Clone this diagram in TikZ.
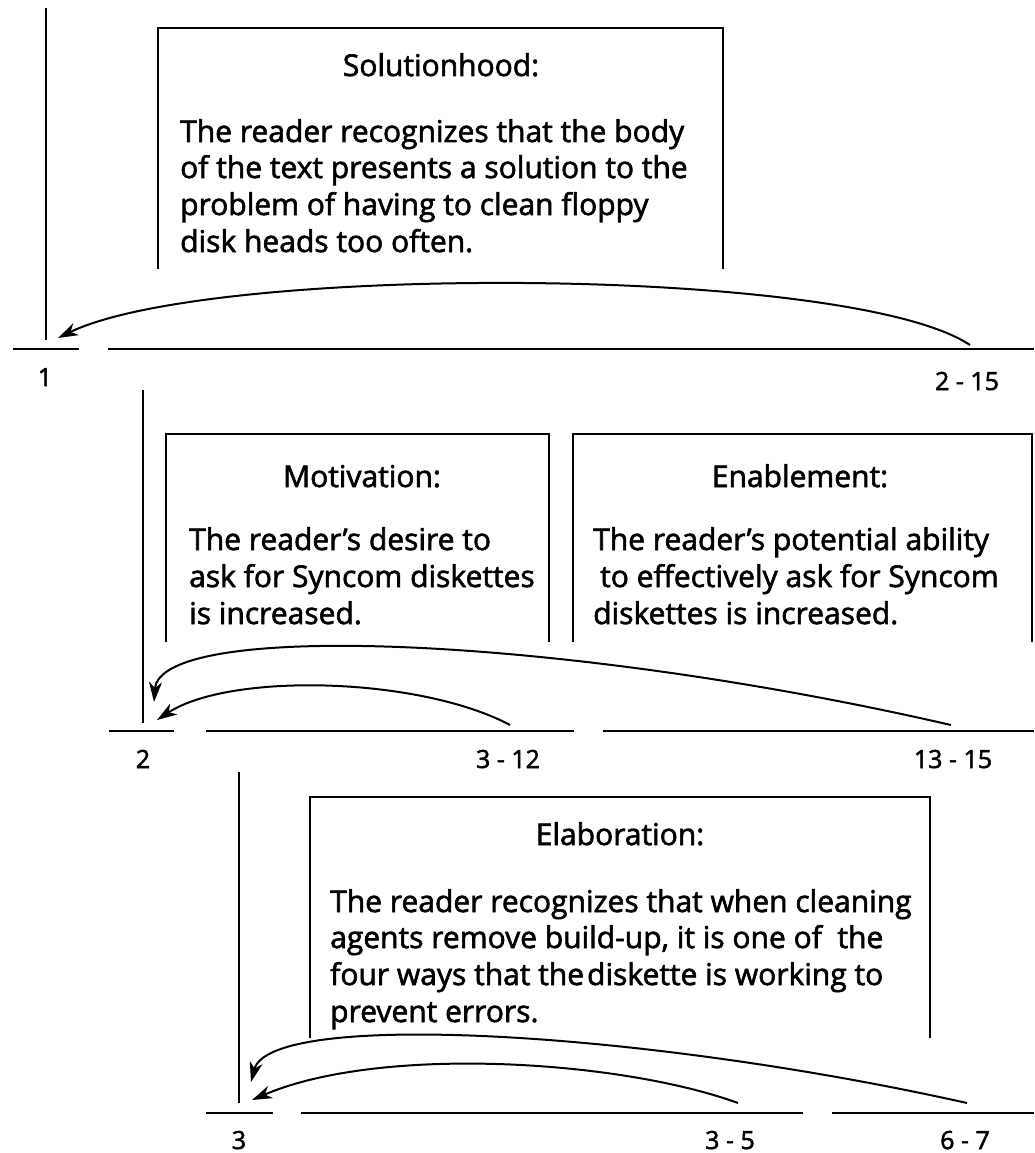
\documentclass[tikz,border=0pt]{standalone}
\usepackage{fontspec}
\setmainfont{Open Sans}[BoldFont={Open Sans},BoldFeatures={FakeBold=2}]
\usetikzlibrary{arrows.meta}
\begin{document}
\begin{tikzpicture}[x=1pt,y=-1pt,
  ln/.style={line width=2pt},
  arr/.style={line width=2pt,-{Stealth[length=20pt,width=13pt,inset=6pt]}},
  ttl/.style={anchor=base,inner sep=0pt,font=\fontsize{30}{36}\selectfont\bfseries},
  txt/.style={anchor=base west,inner sep=0pt,font=\fontsize{30}{36}\selectfont\bfseries},
  lab/.style={anchor=base,inner sep=0pt,font=\fontsize{25}{30}\selectfont\bfseries}]
\useasboundingbox (0,0) rectangle (1034,1153);

% ---------- Section 1 ----------
\draw[ln] (45.7,8) -- (45.7,340);
\draw[ln] (13,349) -- (79,349);
\draw[ln] (108,349) -- (1034,349);
\draw[ln] (158,269) |- (723,28) -- (723,269);
\node[ttl] (t1) at (441,76) {Solutionhood:};
\node[txt] (s1a) at (180,142) {The reader recognizes that the body};
\node[txt] (s1b) at (180,178) {of the text presents a solution to the};
\node[txt] (s1c) at (180,215) {problem of having to clean floppy};
\node[txt] (s1d) at (180,252) {disk heads too often.};
\coordinate (a1s) at (970,345);
\coordinate (a1e) at (58,338);
\draw[arr] (a1s) .. controls (850,265) and (210,264) .. (a1e);
\node[lab] (n1) at (45,386) {1};
\node[lab] (n215) at (967,390) {2 - 15};

% ---------- Section 2 ----------
\draw[ln] (143,390) -- (143,723);
\draw[ln] (109,731) -- (174,731);
\draw[ln] (206,731) -- (574,731);
\draw[ln] (603,731) -- (1034,731);
\draw[ln] (166,642) |- (549,434) -- (549,642);
\draw[ln] (573,642) |- (1032,434) -- (1032,642);
\node[ttl] (t2) at (362,487) {Motivation:};
\node[txt] (m1) at (189,550) {The reader’s desire to};
\node[txt] (m2) at (189,587) {ask for Syncom diskettes};
\node[txt] (m3) at (189,624) {is increased.};
\node[ttl] (t3) at (800,487) {Enablement:};
\node[txt] (e1) at (593,550) {The reader’s potential ability};
\node[txt] (e2) at (600,587) {to effectively ask for Syncom};
\node[txt] (e3) at (593,624) {diskettes is increased.};
\coordinate (a2s) at (951,725);
\coordinate (a2e) at (154,702);
\coordinate (a3s) at (510,725);
\coordinate (a3e) at (157,720);
\draw[arr] (a2s) .. controls (560,635) and (160,620) .. (a2e);
\draw[arr] (a3s) .. controls (420,677) and (230,672) .. (a3e);
\node[lab] (n2) at (143,768) {2};
\node[lab] (n312) at (508,768) {3 - 12};
\node[lab] (n1315) at (953,768) {13 - 15};

% ---------- Section 3 ----------
\draw[ln] (239,772) -- (239,1103);
\draw[ln] (206,1113) -- (273,1113);
\draw[ln] (301,1113) -- (803,1113);
\draw[ln] (832,1113) -- (1034,1113);
\draw[ln] (310,1038) |- (930,797) -- (930,1038);
\node[ttl] (t4) at (620,845) {Elaboration:};
\node[txt] (l1) at (330,912) {The reader recognizes that when cleaning};
\node[txt] (l2) at (330,948) {agents remove build-up, it is one of\ \ the};
\node[txt] (l3) at (330,985) {four ways that the\hspace{0.1em}diskette is working to};
\node[txt] (l4) at (330,1022) {prevent errors.};
\coordinate (a4s) at (967,1103);
\coordinate (a4e) at (251,1082);
\coordinate (a5s) at (738,1103);
\coordinate (a5e) at (252,1100);
\draw[arr] (a4s) .. controls (640,1030) and (270,1010) .. (a4e);
\draw[arr] (a5s) .. controls (620,1060) and (380,1045) .. (a5e);
\node[lab] (n3) at (239,1149) {3};
\node[lab] (n35) at (730,1149) {3 - 5};
\node[lab] (n67) at (965,1149) {6 - 7};
\end{tikzpicture}
\end{document}
